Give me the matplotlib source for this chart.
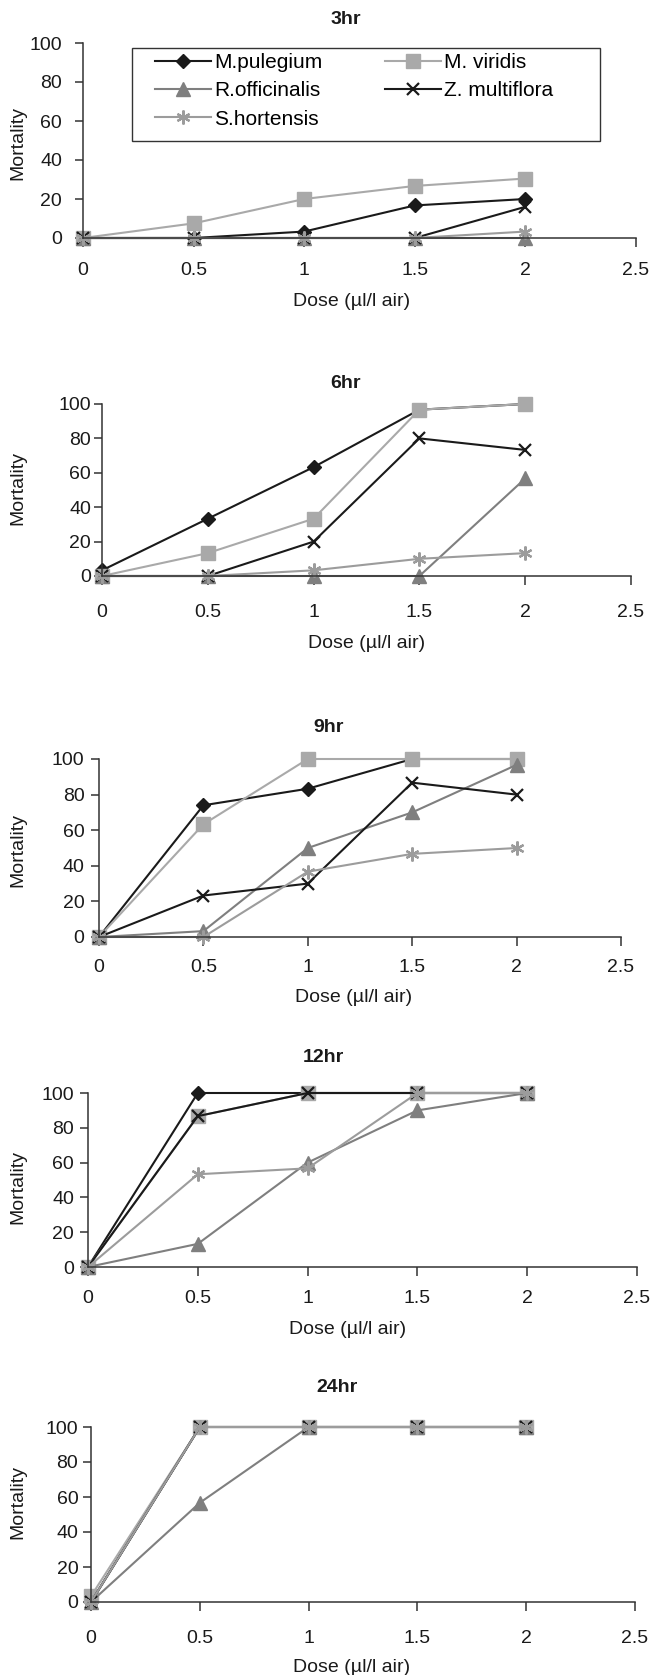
import matplotlib
matplotlib.use("Agg")
import matplotlib.pyplot as plt
from matplotlib.patches import Rectangle

plt.rcParams['font.family'] = ['Liberation Sans', 'DejaVu Sans']

dose = [0, 0.5, 1, 1.5, 2]
species = ["M.pulegium", "M. viridis", "R.officinalis", "Z. multiflora", "S.hortensis"]
panel_titles = ["3hr", "6hr", "9hr", "12hr", "24hr"]

# mortality per species, one list per time point
mort_3hr = [
    [0, 0, 3.3, 16.7, 20],
    [0, 7.5, 20, 26.7, 30.5],
    [0, 0, 0, 0, 0],
    [0, 0, 0, 0, 16],
    [0, 0, 0, 0, 3.3],
]
mort_6hr = [
    [3.3, 33.3, 63.3, 96.7, 100],
    [0, 13.3, 33.3, 96.7, 100],
    [0, 0, 0, 0, 56.7],
    [0, 0, 20, 80, 73.3],
    [0, 0, 3.3, 10, 13.3],
]
mort_9hr = [
    [0, 74, 83.3, 100, 100],
    [0, 63.3, 100, 100, 100],
    [0, 3.3, 50, 70, 96.7],
    [0, 23.3, 30, 86.7, 80],
    [0, 0, 36.7, 46.7, 50],
]
mort_12hr = [
    [0, 100, 100, 100, 100],
    [0, 86.7, 100, 100, 100],
    [0, 13.3, 60, 90, 100],
    [0, 86.7, 100, 100, 100],
    [0, 53.3, 56.7, 100, 100],
]
mort_24hr = [
    [0, 100, 100, 100, 100],
    [3.3, 100, 100, 100, 100],
    [0, 56.7, 100, 100, 100],
    [0, 100, 100, 100, 100],
    [0, 100, 100, 100, 100],
]
all_panels = [mort_3hr, mort_6hr, mort_9hr, mort_12hr, mort_24hr]

colors = ["#1a1a1a", "#a9a9a9", "#7f7f7f", "#1a1a1a", "#9c9c9c"]
markers = ["D", "s", "^", "x", (6, 2, 0)]
msizes = [7, 9.5, 10.5, 9, 10]

W, H = 650, 1675
# pixel boxes: left, right, y of 0, y of 100
boxes = [(83, 636, 238, 43), (102, 631, 576, 404), (99, 621, 937, 759),
         (88, 637, 1267, 1093), (91, 635, 1602, 1427)]
title_pos = [(346, 20), (346, 383), (329, 727), (323, 1058), (337, 1388)]
xlabel_pos = [(352, 301), (367, 643), (354, 998), (348, 1330), (352, 1668)]
ylabel_pos = [(18, 143), (18, 488), (18, 850), (18, 1187), (18, 1502)]
xpads = [11, 14, 9, 10, 14]
ypads = [9.5, 2.5, 5, 4.5, 3.6]

fig = plt.figure(figsize=(6.5, 16.75), dpi=100)

for i, data in enumerate(all_panels):
    l, r, y0, y1 = boxes[i]
    ax = fig.add_axes([l / W, 1 - y0 / H, (r - l) / W, (y0 - y1) / H])
    lines = []
    for j, vals in enumerate(data):
        ln, = ax.plot(dose, vals, color=colors[j], marker=markers[j], ms=msizes[j],
                      lw=1.5, mew=1.6 if j >= 3 else 1, clip_on=False, label=species[j])
        lines.append(ln)
    ax.set_xlim(0, 2.5)
    ax.set_ylim(0, 100)
    ax.set_xticks([0, 0.5, 1, 1.5, 2, 2.5])
    ax.set_xticklabels(["0", "0.5", "1", "1.5", "2", "2.5"])
    ax.set_yticks([0, 20, 40, 60, 80, 100])
    for s in ["top", "right"]:
        ax.spines[s].set_visible(False)
    for s in ["left", "bottom"]:
        ax.spines[s].set_linewidth(1.1)
        ax.spines[s].set_color("#333333")
    ax.tick_params(axis="x", direction="out", length=6.5, width=1.1, pad=xpads[i],
                   labelsize=14, colors="#333333", labelcolor="#1a1a1a")
    ax.tick_params(axis="y", direction="out", length=5.5, width=1.1, pad=ypads[i],
                   labelsize=14, colors="#333333", labelcolor="#1a1a1a")
    fig.text(title_pos[i][0] / W, 1 - title_pos[i][1] / H, panel_titles[i],
             ha="center", va="center", fontsize=14, fontweight="bold", color="#1a1a1a")
    fig.text(xlabel_pos[i][0] / W, 1 - xlabel_pos[i][1] / H, "Dose (µl/l air)",
             ha="center", va="center", fontsize=14, color="#1a1a1a")
    fig.text(ylabel_pos[i][0] / W, 1 - ylabel_pos[i][1] / H, "Mortality",
             ha="center", va="center", rotation=90, fontsize=14, color="#1a1a1a")
    if i == 0:
        order = [0, 2, 4, 1, 3]
        ax.legend([lines[k] for k in order], [species[k] for k in order],
                  ncol=2, loc="upper left", bbox_to_anchor=(155 / W, 1 - 53 / H),
                  bbox_transform=fig.transFigure, fontsize=15, frameon=False,
                  handlelength=2.7, labelspacing=0.45, borderpad=0,
                  columnspacing=3.0, handletextpad=0.15, borderaxespad=0)
        fig.add_artist(Rectangle((132 / W, 1 - 141 / H), (600 - 132) / W, (141 - 48) / H,
                                 transform=fig.transFigure, fill=False,
                                 edgecolor="#333333", lw=1.0))

fig.savefig("out.png", dpi=100)
